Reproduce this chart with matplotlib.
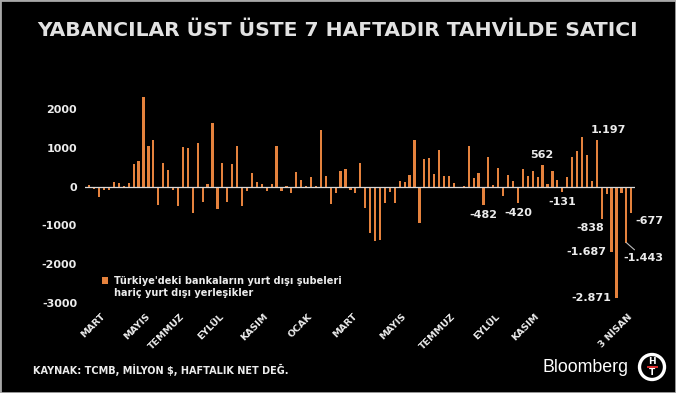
import numpy as np
import matplotlib.pyplot as plt
from matplotlib.patches import Patch, Circle, Rectangle

# haftalik net yabanci tahvil akimi, milyon $
flows = [
    30, -60, -275, -80, -100, 115, 85, 25, 105, 595,
    660, 2300, 1040, 1200, -470, 615, 420, -95, -490, 1030,
    1000, -680, 1135, -405, 70, 1650, -575, 610, -405, 570,
    1040, -510, -105, 345, 110, 65, -120, 55, 1040, -105,
    10, -170, 370, 170, 10, 240, 25, 1465, 270, -450,
    -165, 400, 450, -80, -170, 610, -555, -1205, -1405, -1380,
    -430, -145, -430, 140, 130, 300, 1190, -945, 705, 725,
    320, 940, 285, 270, 90, -30, 5, 1040, 215, 352,
    -482, 750, 45, 480, -245, 300, 140, -420, 455, 285,
    405, 240, 562, 60, 395, 180, -131, 240, 770, 920,
    1290, 825, 145, 1197, -838, -190, -1687, -2871, -165, -1443,
    -677,
]
month_labels = ["MART", "MAYIS", "TEMMUZ", "EYLÜL", "KASIM", "OCAK",
                "MART", "MAYIS", "TEMMUZ", "EYLÜL", "KASIM", "3 NİSAN"]
month_weeks = [3, 12, 19, 27, 36, 45, 54, 64, 74, 83, 91, 110]
yticks = [-3000, -2000, -1000, 0, 1000, 2000]
labelled_weeks = [80, 87, 92, 96, 103, 104, 106, 107, 109, 110]

title = "YABANCILAR ÜST ÜSTE 7 HAFTADIR TAHVİLDE SATICI"
legend_lines = ["Türkiye'deki bankaların yurt dışı şubeleri",
                "hariç yurt dışı yerleşikler"]
source = "KAYNAK: TCMB, MİLYON $, HAFTALIK NET DEĞ."

ORANGE = "#E5823D"
TXT = "#ececec"

# label offsets in pixels: (dx, dy, ha, va)
label_style = {
    80: (0, -5, "center", "top"),
    87: (0, -5, "center", "top"),
    92: (-1, 5, "center", "bottom"),
    96: (0, -5, "center", "top"),
    103: (-6, 5, "left", "bottom"),
    104: (2, -4, "right", "top"),
    106: (-5, 0, "right", "center"),
    107: (-5, 0, "right", "center"),
    109: (-3, -10, "left", "top"),
    110: (4, -3, "left", "top"),
}

W, H = 676, 393
fig = plt.figure(figsize=(W / 100, H / 100), dpi=100, facecolor="black")
ax = fig.add_axes([85.4 / W, 1 - 306.9 / H, 549.8 / W, 221.2 / H])
ax.set_facecolor("black")

x = np.arange(len(flows))
bars = ax.bar(x, flows, width=0.45, color=ORANGE, zorder=2)
ax.axhline(0, color="#d8d8d8", lw=0.9, zorder=3)

ax.set_xlim(-0.8, len(flows) - 0.2)
ax.set_ylim(-3100, 2600)
for s in ax.spines.values():
    s.set_visible(False)

ax.set_yticks(yticks)
ax.set_yticklabels([str(v) for v in yticks], fontsize=8, fontweight="bold", color=TXT)
ax.set_xticks(month_weeks)
ax.set_xticklabels(month_labels, fontsize=6.8, fontweight="bold", color=TXT,
                   rotation=45, ha="right", va="center", rotation_mode="anchor")
ax.tick_params(axis="both", length=0)
ax.tick_params(axis="y", pad=6)
ax.tick_params(axis="x", pad=6)

for i in labelled_weeks:
    v = flows[i]
    dx, dy, ha, va = label_style[i]
    txt = f"{v:,}".replace(",", ".")
    if i == 109:
        ax.annotate(txt, xy=(i, v), xytext=(dx, dy), textcoords="offset pixels",
                    ha=ha, va=va, fontsize=8, fontweight="bold", color=TXT,
                    arrowprops=dict(arrowstyle="-", color="#bbbbbb", lw=0.8,
                                    shrinkA=0, shrinkB=0))
    else:
        ax.annotate(txt, xy=(i, v), xytext=(dx, dy), textcoords="offset pixels",
                    ha=ha, va=va, fontsize=8, fontweight="bold", color=TXT)

handles = [Patch(facecolor=ORANGE, edgecolor="none"), Patch(visible=False)]
ax.legend(handles, legend_lines, loc="upper left",
          bbox_to_anchor=(102 / W, 1 - 276 / H), bbox_transform=fig.transFigure,
          frameon=False, prop={"weight": "bold", "size": 7},
          handlelength=0.6, handleheight=0.6, handletextpad=0.6,
          labelspacing=0.2, borderpad=0, borderaxespad=0, labelcolor=TXT)

fig.text(0.5, 1 - 31 / H, title, ha="center", va="center",
         fontsize=14.6, fontweight="bold", color="#e2e2e2")
fig.text(33 / W, 1 - 370 / H, source, ha="left", va="center",
         fontsize=7, fontweight="bold", color=TXT)
fig.text(628 / W, 1 - 368 / H, "Bloomberg", ha="right", va="center",
         fontsize=12.8, family="Liberation Sans", color="white")

# HT logo
cx, cy = 6.52, (H - 367) / 100
fig.add_artist(Circle((cx, cy), 0.125, transform=fig.dpi_scale_trans,
                      facecolor="black", edgecolor="white", lw=2.4))
fig.add_artist(Rectangle((cx - 0.055, cy - 0.009), 0.11, 0.018,
                         transform=fig.dpi_scale_trans, facecolor="#d62b2b", edgecolor="none"))
fig.text(cx / (W / 100), (cy + 0.05) / (H / 100), "H", ha="center", va="center",
         fontsize=6.5, fontweight="bold", color="white")
fig.text(cx / (W / 100), (cy - 0.055) / (H / 100), "T", ha="center", va="center",
         fontsize=6.5, fontweight="bold", color="white")

fig.add_artist(Rectangle((0, 0), 1, 1, transform=fig.transFigure, fill=False,
                         edgecolor="#a8a8a8", lw=2))

fig.savefig("out.png", dpi=100, facecolor="black")
